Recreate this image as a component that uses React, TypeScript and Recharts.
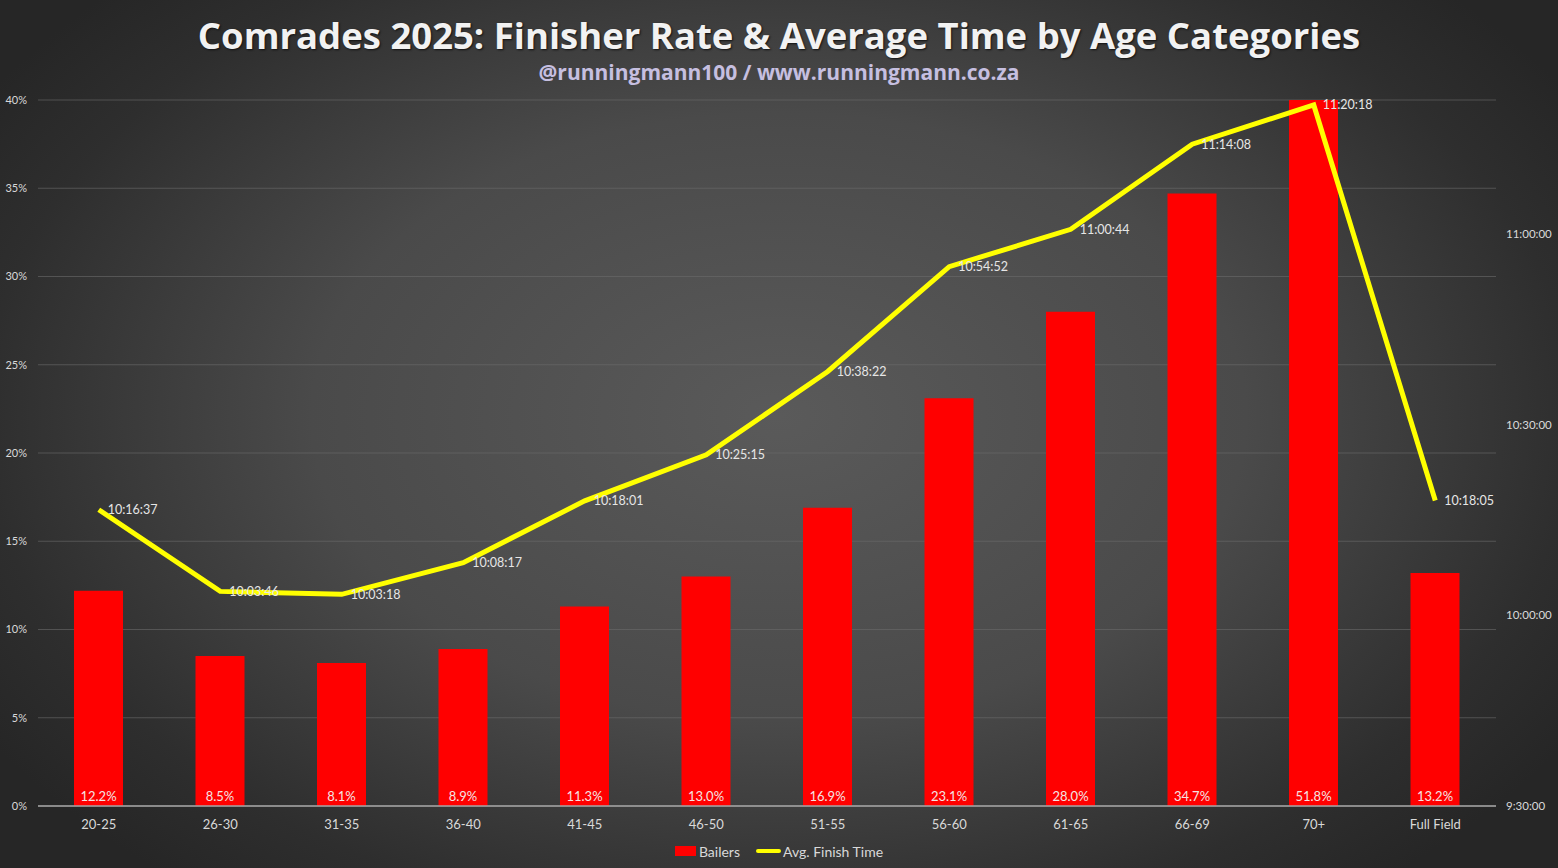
import React from 'react';
import { ComposedChart, Bar, Line, XAxis, YAxis, CartesianGrid, LabelList, Legend } from 'recharts';

const categories = ['20-25', '26-30', '31-35', '36-40', '41-45', '46-50', '51-55', '56-60', '61-65', '66-69', '70+', 'Full Field'];
const bailers = [12.2, 8.5, 8.1, 8.9, 11.3, 13.0, 16.9, 23.1, 28.0, 34.7, 51.8, 13.2];
const avgTimes = ['10:16:37', '10:03:46', '10:03:18', '10:08:17', '10:18:01', '10:25:15', '10:38:22', '10:54:52', '11:00:44', '11:14:08', '11:20:18', '10:18:05'];
const leftTicks = [0, 5, 10, 15, 20, 25, 30, 35, 40];
const rightTickLabels = ['9:30:00', '10:00:00', '10:30:00', '11:00:00'];
const rightMaxLabel = '11:21:05';

const toSec = (s: string) => {
  const [h, m, sec] = s.split(':').map(Number);
  return h * 3600 + m * 60 + sec;
};
const fmt = (v: number) => {
  const h = Math.floor(v / 3600);
  const m = Math.floor((v % 3600) / 60);
  const s = Math.round(v % 60);
  return `${h}:${String(m).padStart(2, '0')}:${String(s).padStart(2, '0')}`;
};

const data = categories.map((c, i) => ({ category: c, bailers: bailers[i], time: toSec(avgTimes[i]) }));
const rightTicks = rightTickLabels.map(toSec);

const FONT = 'Lato, "Open Sans", sans-serif';

const LegendContent = () => (
  <div style={{ display: 'flex', justifyContent: 'center', alignItems: 'center', fontFamily: FONT, fontSize: 14, color: '#d9d9d9', height: 24 }}>
    <span style={{ display: 'inline-block', width: 21, height: 10, background: '#ff0000', marginRight: 3 }} />
    <span style={{ marginRight: 16 }}>Bailers</span>
    <span style={{ display: 'inline-block', width: 25, height: 4, borderRadius: 2, background: '#ffff00', marginRight: 2 }} />
    <span>Avg. Finish Time</span>
  </div>
);

export default function App() {
  return (
    <div
      style={{
        position: 'absolute',
        left: 0,
        top: 0,
        width: 1558,
        height: 868,
        background: 'radial-gradient(ellipse 60% 70% at 50% 48%, #5a5a5a 0%, #4a4a4a 50%, #2e2e2e 85%, #262626 100%)',
        overflow: 'hidden',
      }}
    >
      <div style={{ position: 'absolute', left: 0, top: 10, width: 1558, textAlign: 'center', fontFamily: '"Open Sans", sans-serif', fontWeight: 700, fontSize: 36.5, color: '#f2f2f2', textShadow: '1px 1px 2px #111' }}>
        Comrades 2025: Finisher Rate &amp; Average Time by Age Categories
      </div>
      <div style={{ position: 'absolute', left: 0, top: 58, width: 1558, textAlign: 'center', fontFamily: '"Open Sans", sans-serif', fontWeight: 700, fontSize: 21, color: '#c6bfe0' }}>
        @runningmann100 / www.runningmann.co.za
      </div>
      <div style={{ position: 'absolute', left: 0, top: 0 }}>
        <ComposedChart width={1558} height={868} data={data} margin={{ top: 100, right: 0, left: 0, bottom: 5 }} barCategoryGap={0}>
          <CartesianGrid yAxisId="left" vertical={false} stroke="#6a6a6a" strokeOpacity={0.6} />
          <XAxis
            dataKey="category"
            height={33}
            tickLine={false}
            axisLine={{ stroke: '#a6a6a6', strokeWidth: 1.5 }}
            tickSize={0}
            tickMargin={14}
            tick={{ fill: '#d9d9d9', fontSize: 13, fontFamily: FONT }}
            interval={0}
          />
          <YAxis
            yAxisId="left"
            width={38}
            domain={[0, 40]}
            ticks={leftTicks}
            allowDataOverflow
            tickFormatter={(v: number) => `${v}%`}
            axisLine={false}
            tickLine={false}
            tickSize={0}
            tickMargin={11}
            tick={{ fill: '#d9d9d9', fontSize: 11, fontFamily: FONT }}
          />
          <YAxis
            yAxisId="right"
            orientation="right"
            width={62}
            domain={[toSec(rightTickLabels[0]), toSec(rightMaxLabel)]}
            ticks={rightTicks}
            allowDataOverflow
            tickFormatter={fmt}
            axisLine={false}
            tickLine={false}
            tickSize={0}
            tickMargin={10}
            tick={{ fill: '#d9d9d9', fontSize: 11.5, fontFamily: FONT }}
          />
          <Legend verticalAlign="bottom" height={24} content={<LegendContent />} />
          <Bar yAxisId="left" dataKey="bailers" name="Bailers" fill="#ff0000" barSize={49} isAnimationActive={false}>
            <LabelList
              dataKey="bailers"
              position="insideBottom"
              offset={5}
              formatter={(v: number) => `${v.toFixed(1)}%`}
              style={{ fill: '#f4e4e4', fontSize: 13, fontFamily: FONT }}
            />
          </Bar>
          <Line
            yAxisId="right"
            dataKey="time"
            name="Avg. Finish Time"
            stroke="#ffff00"
            strokeWidth={5}
            dot={false}
            activeDot={false}
            type="linear"
            isAnimationActive={false}
          >
            <LabelList
              dataKey="time"
              position="right"
              offset={9}
              formatter={(v: number) => fmt(v)}
              style={{ fill: '#e6e6e6', fontSize: 12.5, fontFamily: FONT }}
            />
          </Line>
        </ComposedChart>
      </div>
    </div>
  );
}
